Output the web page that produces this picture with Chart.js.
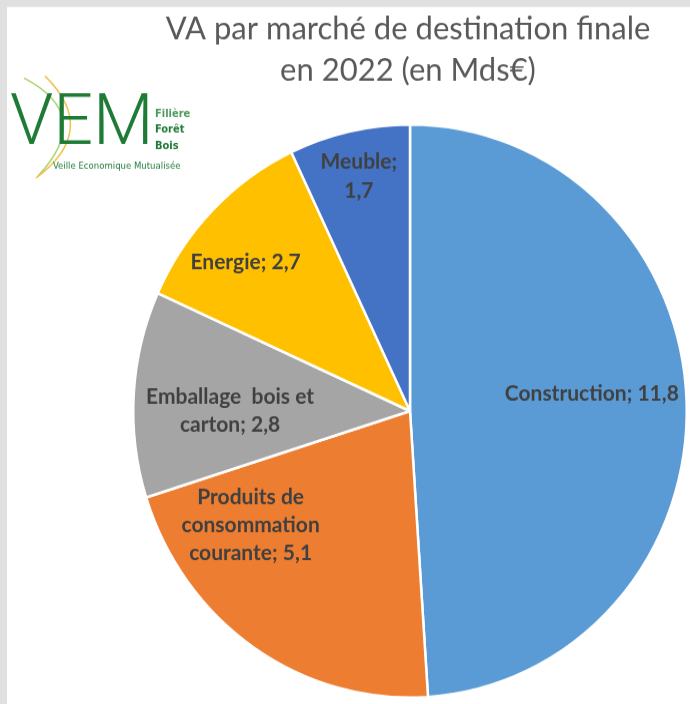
<!DOCTYPE html>
<html>
<head>
<meta charset="utf-8">
<script src="https://cdn.jsdelivr.net/npm/chart.js@4.4.1/dist/chart.umd.min.js"></script>
<style>
  html, body { margin: 0; padding: 0; background: #fff; overflow: hidden; height: 704px; }
  #outer { width: 690px; height: 704px; position: relative; overflow: hidden; }
  #wrap { position: absolute; left: 0; top: 0; width: 690px; height: 680px; transform: scaleY(1.0353); transform-origin: 0 0; }
</style>
</head>
<body>
<div id="outer"><div id="wrap"><canvas id="pie" width="690" height="680"></canvas></div></div>
<script>
// ===== Données =====
const categories = ["Construction", "Produits de consommation courante", "Emballage  bois et carton", "Energie", "Meuble"];
const values = [11.8, 5.1, 2.8, 2.7, 1.7];
const colors = ["#5B9BD5", "#ED7D31", "#A5A5A5", "#FFC000", "#4472C4"];
const titleLines = ["VA par marché de destination finale", "en 2022 (en Mds€)"];

// placement des étiquettes (fraction du rayon, décalage d'angle en degrés, largeur max)
const labelRadius = [0.66, 0.70, 0.65, 0.79, 0.84];
const labelShift = [-3.5, 21, -3.3, -3.2, 0];
const labelWrap = [400, 150, 200, 400, 90];

const SY = 1.0353; // étirement vertical de l'image d'origine
const fmt = v => v.toFixed(1).replace(".", ",");

function wrapText(ctx, text, maxW) {
  const words = text.split(" ");
  const lines = [];
  let line = "";
  words.forEach(w => {
    const test = line ? line + " " + w : w;
    if (line && w && ctx.measureText(test).width > maxW) {
      lines.push(line.trim());
      line = w;
    } else {
      line = test;
    }
  });
  lines.push(line.trim());
  return lines;
}

// ===== Titre, logo, cadre =====
const decorPlugin = {
  id: "decor",
  beforeDraw(chart) {
    const ctx = chart.ctx;
    ctx.save();
    ctx.fillStyle = "#E0E0E0";
    ctx.fillRect(0, 0, 690, 7 / SY);
    ctx.fillRect(0, 0, 7, 680);

    // titre
    ctx.fillStyle = "#595959";
    ctx.font = "31px Lato, 'Open Sans', sans-serif";
    ctx.textAlign = "center";
    ctx.textBaseline = "alphabetic";
    ctx.fillText(titleLines[0], 408, 39 / SY);
    ctx.fillText(titleLines[1], 408, 81 / SY);

    // logo VEM
    ctx.lineWidth = 1.5;
    ctx.strokeStyle = "#A8D26A";
    ctx.beginPath();
    ctx.moveTo(24, 78 / SY);
    ctx.quadraticCurveTo(95, 115 / SY, 38, 176 / SY);
    ctx.stroke();
    ctx.strokeStyle = "#F2C14E";
    ctx.beginPath();
    ctx.moveTo(45, 76 / SY);
    ctx.quadraticCurveTo(100, 130 / SY, 36, 178 / SY);
    ctx.stroke();

    ctx.fillStyle = "#1F7A35";
    ctx.textAlign = "left";
    ctx.save();
    ctx.translate(10, 144 / SY);
    ctx.scale(1.03, 1);
    ctx.font = "300 68px Roboto, 'Liberation Sans', sans-serif";
    ctx.fillText("VEM", 0, 0);
    ctx.restore();
    ctx.font = "bold 11px 'DejaVu Sans Condensed', sans-serif";
    ctx.fillStyle = "#4E9A5E";
    ctx.fillText("Filière", 155, 117 / SY);
    ctx.fillStyle = "#1F7A35";
    ctx.fillText("Forêt", 155, 133 / SY);
    ctx.fillText("Bois", 155, 149 / SY);
    ctx.font = "9.5px 'DejaVu Sans Condensed', sans-serif";
    ctx.fillText("Veille Economique Mutualisée", 53, 169 / SY);
    ctx.restore();
  }
};

// ===== Étiquettes des secteurs =====
const labelPlugin = {
  id: "sliceLabels",
  afterDatasetsDraw(chart) {
    const ctx = chart.ctx;
    const meta = chart.getDatasetMeta(0);
    ctx.save();
    ctx.font = "bold 21px Lato, 'Open Sans', sans-serif";
    ctx.fillStyle = "#404040";
    ctx.textAlign = "center";
    ctx.textBaseline = "middle";
    meta.data.forEach((arc, i) => {
      const p = arc.getProps(["x", "y", "startAngle", "endAngle", "outerRadius"], true);
      const mid = (p.startAngle + p.endAngle) / 2 + labelShift[i] * Math.PI / 180;
      const r = p.outerRadius * labelRadius[i];
      const cx = p.x + Math.cos(mid) * r;
      const cy = p.y + Math.sin(mid) * r;
      const lines = wrapText(ctx, categories[i] + "; " + fmt(values[i]), labelWrap[i]);
      const lh = 28 / SY;
      lines.forEach((ln, k) => {
        ctx.fillText(ln, cx, cy + (k - (lines.length - 1) / 2) * lh);
      });
    });
    ctx.restore();
  }
};

new Chart(document.getElementById("pie"), {
  type: "pie",
  data: {
    labels: categories,
    datasets: [{
      data: values,
      backgroundColor: colors,
      borderColor: "#ffffff",
      borderWidth: 2.5
    }]
  },
  options: {
    responsive: false,
    animation: false,
    layout: { padding: { left: 132, right: 2, top: 119, bottom: 5 } },
    plugins: {
      legend: { display: false },
      tooltip: { enabled: false }
    }
  },
  plugins: [decorPlugin, labelPlugin]
});
</script>
</body>
</html>
